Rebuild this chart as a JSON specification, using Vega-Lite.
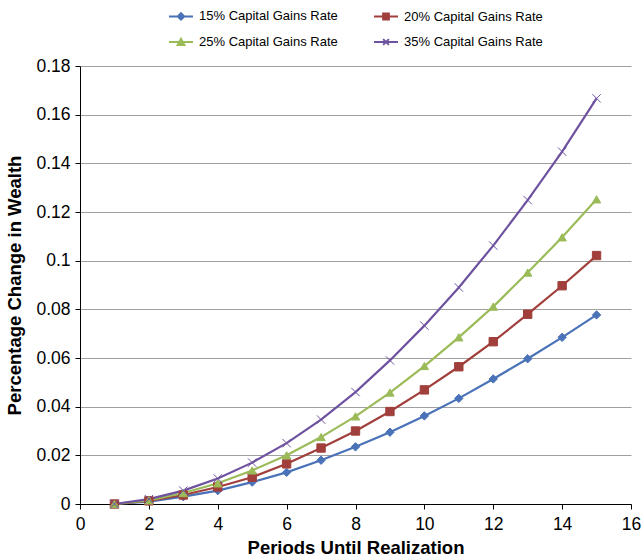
{
  "$schema": "https://vega.github.io/schema/vega-lite/v6.json",
  "width": 551,
  "height": 438,
  "autosize": {"type": "none"},
  "padding": {"left": 80, "top": 66, "right": 12, "bottom": 54},
  "background": "white",
  "config": {
    "view": {"stroke": null},
    "font": "Liberation Sans",
    "axis": {"labelFont": "Liberation Sans", "titleFont": "Liberation Sans", "labelColor": "#000", "titleColor": "#000"}
  },
  "data": {
    "values": [
      {"period": 1, "series": "15% Capital Gains Rate", "value": 0},
      {"period": 2, "series": "15% Capital Gains Rate", "value": 0.001},
      {"period": 3, "series": "15% Capital Gains Rate", "value": 0.003},
      {"period": 4, "series": "15% Capital Gains Rate", "value": 0.0055},
      {"period": 5, "series": "15% Capital Gains Rate", "value": 0.009},
      {"period": 6, "series": "15% Capital Gains Rate", "value": 0.013},
      {"period": 7, "series": "15% Capital Gains Rate", "value": 0.018},
      {"period": 8, "series": "15% Capital Gains Rate", "value": 0.0235},
      {"period": 9, "series": "15% Capital Gains Rate", "value": 0.0295},
      {"period": 10, "series": "15% Capital Gains Rate", "value": 0.0362},
      {"period": 11, "series": "15% Capital Gains Rate", "value": 0.0434},
      {"period": 12, "series": "15% Capital Gains Rate", "value": 0.0514},
      {"period": 13, "series": "15% Capital Gains Rate", "value": 0.0597},
      {"period": 14, "series": "15% Capital Gains Rate", "value": 0.0685},
      {"period": 15, "series": "15% Capital Gains Rate", "value": 0.0777},
      {"period": 1, "series": "20% Capital Gains Rate", "value": 0},
      {"period": 2, "series": "20% Capital Gains Rate", "value": 0.0013},
      {"period": 3, "series": "20% Capital Gains Rate", "value": 0.0037},
      {"period": 4, "series": "20% Capital Gains Rate", "value": 0.007},
      {"period": 5, "series": "20% Capital Gains Rate", "value": 0.011},
      {"period": 6, "series": "20% Capital Gains Rate", "value": 0.0165},
      {"period": 7, "series": "20% Capital Gains Rate", "value": 0.023},
      {"period": 8, "series": "20% Capital Gains Rate", "value": 0.03},
      {"period": 9, "series": "20% Capital Gains Rate", "value": 0.038},
      {"period": 10, "series": "20% Capital Gains Rate", "value": 0.0469},
      {"period": 11, "series": "20% Capital Gains Rate", "value": 0.0564},
      {"period": 12, "series": "20% Capital Gains Rate", "value": 0.0667},
      {"period": 13, "series": "20% Capital Gains Rate", "value": 0.078},
      {"period": 14, "series": "20% Capital Gains Rate", "value": 0.0897},
      {"period": 15, "series": "20% Capital Gains Rate", "value": 0.1021},
      {"period": 1, "series": "25% Capital Gains Rate", "value": 0},
      {"period": 2, "series": "25% Capital Gains Rate", "value": 0.0015},
      {"period": 3, "series": "25% Capital Gains Rate", "value": 0.0045},
      {"period": 4, "series": "25% Capital Gains Rate", "value": 0.0085},
      {"period": 5, "series": "25% Capital Gains Rate", "value": 0.0138},
      {"period": 6, "series": "25% Capital Gains Rate", "value": 0.02},
      {"period": 7, "series": "25% Capital Gains Rate", "value": 0.0275},
      {"period": 8, "series": "25% Capital Gains Rate", "value": 0.036},
      {"period": 9, "series": "25% Capital Gains Rate", "value": 0.0458},
      {"period": 10, "series": "25% Capital Gains Rate", "value": 0.0567},
      {"period": 11, "series": "25% Capital Gains Rate", "value": 0.0685},
      {"period": 12, "series": "25% Capital Gains Rate", "value": 0.0811},
      {"period": 13, "series": "25% Capital Gains Rate", "value": 0.0951},
      {"period": 14, "series": "25% Capital Gains Rate", "value": 0.1096},
      {"period": 15, "series": "25% Capital Gains Rate", "value": 0.1252},
      {"period": 1, "series": "35% Capital Gains Rate", "value": 0},
      {"period": 2, "series": "35% Capital Gains Rate", "value": 0.002},
      {"period": 3, "series": "35% Capital Gains Rate", "value": 0.0055},
      {"period": 4, "series": "35% Capital Gains Rate", "value": 0.0105},
      {"period": 5, "series": "35% Capital Gains Rate", "value": 0.017},
      {"period": 6, "series": "35% Capital Gains Rate", "value": 0.025},
      {"period": 7, "series": "35% Capital Gains Rate", "value": 0.0347},
      {"period": 8, "series": "35% Capital Gains Rate", "value": 0.046},
      {"period": 9, "series": "35% Capital Gains Rate", "value": 0.059},
      {"period": 10, "series": "35% Capital Gains Rate", "value": 0.0733},
      {"period": 11, "series": "35% Capital Gains Rate", "value": 0.089},
      {"period": 12, "series": "35% Capital Gains Rate", "value": 0.1062},
      {"period": 13, "series": "35% Capital Gains Rate", "value": 0.1249},
      {"period": 14, "series": "35% Capital Gains Rate", "value": 0.1448},
      {"period": 15, "series": "35% Capital Gains Rate", "value": 0.1667}
    ]
  },
  "encoding": {
    "x": {
      "field": "period", "type": "quantitative",
      "scale": {"domain": [0, 16], "nice": false},
      "axis": {
        "title": "Periods Until Realization",
        "values": [0, 2, 4, 6, 8, 10, 12, 14, 16],
        "grid": false,
        "domainColor": "#000", "tickColor": "#000", "tickSize": 5,
        "labelFontSize": 17.5, "titleFontSize": 18.5, "titleFontWeight": "bold",
        "labelPadding": 6, "titlePadding": 6, "labelFlush": false
      }
    },
    "y": {
      "field": "value", "type": "quantitative",
      "scale": {"domain": [0, 0.18], "nice": false},
      "axis": {
        "title": "Percentage Change in Wealth",
        "values": [0, 0.02, 0.04, 0.06, 0.08, 0.1, 0.12, 0.14, 0.16, 0.18],
        "format": "~g",
        "grid": true, "gridColor": "#a0a0a0", "gridWidth": 1,
        "domainColor": "#000", "tickColor": "#000", "tickSize": 5,
        "labelFontSize": 17.5, "titleFontSize": 18.5, "titleFontWeight": "bold",
        "labelPadding": 5, "titlePadding": 11
      }
    }
  },
  "layer": [
    {
      "mark": {"type": "line", "strokeWidth": 2.2},
      "encoding": {
        "color": {
          "field": "series", "type": "nominal",
          "scale": {
            "domain": ["15% Capital Gains Rate", "20% Capital Gains Rate", "25% Capital Gains Rate", "35% Capital Gains Rate"],
            "range": ["#4A72B8", "#A03F3B", "#9BBB59", "#6E52A0"]
          },
          "legend": {
            "title": null,
            "orient": "none",
            "legendX": 88,
            "legendY": -63,
            "direction": "horizontal",
            "columns": 2,
            "columnPadding": 32,
            "rowPadding": 5,
            "labelFontSize": 13,
            "labelColor": "#000",
            "labelFont": "Liberation Sans",
            "symbolSize": 576,
            "symbolStrokeWidth": 2,
            "labelOffset": 5,
            "labelLimit": 250,
            "encode": {
              "symbols": {
                "update": {
                  "shape": {"signal": "datum.value == '15% Capital Gains Rate' ? 'M-1,0H1M-0.27,0L0,-0.27L0.27,0L0,0.27Z' : datum.value == '20% Capital Gains Rate' ? 'M-1,0H1M-0.24,-0.24H0.24V0.24H-0.24Z' : datum.value == '25% Capital Gains Rate' ? 'M-1,0H1M-0.28,0.24L0,-0.27L0.28,0.24Z' : 'M-1,0H1M-0.24,-0.24L0.24,0.24M-0.24,0.24L0.24,-0.24'"},
                  "fill": {"signal": "scale('color', datum.value)"},
                  "stroke": {"signal": "scale('color', datum.value)"},
                  "strokeWidth": {"value": 2},
                  "opacity": {"value": 1}
                }
              }
            }
          }
        }
      }
    },
    {
      "mark": {"type": "point", "filled": true, "size": 70, "opacity": 1, "strokeWidth": 1},
      "encoding": {
        "shape": {
          "field": "series", "type": "nominal",
          "scale": {
            "domain": ["35% Capital Gains Rate", "25% Capital Gains Rate", "20% Capital Gains Rate", "15% Capital Gains Rate"],
            "range": ["M-1,-1L1,1M-1,1L1,-1", "triangle-up", "square", "diamond"]
          },
          "legend": null
        },
        "fill": {
          "field": "series", "type": "nominal",
          "scale": {
            "domain": ["35% Capital Gains Rate", "25% Capital Gains Rate", "20% Capital Gains Rate", "15% Capital Gains Rate"],
            "range": ["#6E52A0", "#9BBB59", "#A03F3B", "#4A72B8"]
          },
          "legend": null
        },
        "stroke": {
          "field": "series", "type": "nominal",
          "scale": {
            "domain": ["35% Capital Gains Rate", "25% Capital Gains Rate", "20% Capital Gains Rate", "15% Capital Gains Rate"],
            "range": ["#6E52A0", "#9BBB59", "#A03F3B", "#4A72B8"]
          },
          "legend": null
        }
      }
    }
  ]
}
